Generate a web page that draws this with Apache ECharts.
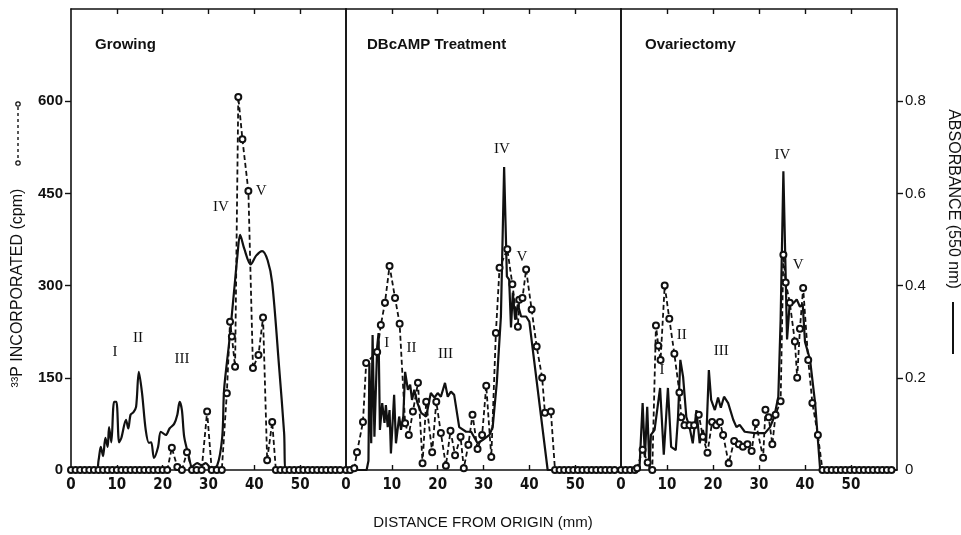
<!DOCTYPE html>
<html>
<head>
<meta charset="utf-8">
<script src="https://cdn.jsdelivr.net/npm/echarts@6/dist/echarts.min.js"></script>
<style>
  html, body { margin: 0; padding: 0; background: #fff; }
  #chart { width: 961px; height: 535px; }
</style>
</head>
<body>
<div id="chart"></div>
<script>
var panelNames = ['Growing', 'DBcAMP Treatment', 'Ovariectomy'];
var xTicks = [0, 10, 20, 30, 40, 50];
var cpmTicks = [0, 150, 300, 450, 600];
var absTicks = [0, 0.2, 0.4, 0.6, 0.8];

// 33P incorporated, [distance mm, cpm]
var growingCpm = [
  [0,0],[1,0],[2,0],[3,0],[4,0],[5,0],[6,0],[7,0],[8,0],[9,0],[10,0],[11,0],[12,0],[13,0],[14,0],
  [15,0],[16,0],[17,0],[18,0],[19,0],[20,0],[21,0],[22,36],[23.2,5],[24.2,0],[25.3,29],[26.4,0],
  [27.4,0],[28.5,0],[29.7,95],[30.7,0],[31.8,0],[32.9,0],[34,125],[34.7,241],[35.1,217],[35.8,168],
  [36.5,607],[37.4,538],[38.7,454],[39.7,166],[40.9,187],[41.9,248],[42.8,16],[43.9,78],[44.7,0],
  [45.7,0],[46.7,0],[47.7,0],[48.7,0],[49.7,0],[50.7,0],[51.7,0],[52.7,0],[53.7,0],[54.7,0],
  [55.7,0],[56.7,0],[57.7,0],[58.7,0]
];
var dbcampCpm = [
  [0,0],[0.9,0],[1.8,3],[2.4,29],[3.7,78],[4.4,174],[6.8,192],[7.6,236],[8.5,272],[9.5,332],
  [10.7,280],[11.7,238],[12.9,76],[13.7,57],[14.6,95],[15.7,142],[16.7,11],[17.5,111],[18.8,29],
  [19.7,111],[20.7,60],[21.8,7],[22.8,64],[23.8,24],[25,54],[25.7,3],[26.7,41],[27.6,90],[28.7,34],
  [29.7,57],[30.6,137],[31.7,21],[32.7,223],[33.5,329],[35.2,359],[36.3,302],[37.5,233],[37.8,277],
  [38.5,280],[39.3,326],[40.5,261],[41.6,201],[42.8,150],[43.4,93],[44.7,95],[45.6,0],[46.6,0],
  [47.6,0],[48.6,0],[49.6,0],[50.6,0],[51.6,0],[52.6,0],[53.6,0],[54.6,0],[55.6,0],[56.6,0],
  [57.6,0],[58.6,0]
];
var ovxCpm = [
  [0,0],[1,0],[2,0],[3,0],[3.5,3],[4.7,33],[5.8,12],[6.8,0],[7.6,235],[8.1,202],[8.6,179],[9.5,300],
  [10.5,246],[11.6,189],[12.7,126],[13.1,86],[13.8,73],[14.9,73],[15.9,73],[16.9,90],[17.8,54],
  [18.8,28],[19.8,78],[20.7,73],[21.5,78],[22.2,57],[23.4,11],[24.6,47],[25.6,42],[26.5,38],
  [27.5,42],[28.4,31],[29.3,77],[30.9,20],[31.4,98],[32.1,86],[32.9,42],[33.6,90],[34.7,112],
  [35.3,350],[35.8,305],[36.7,272],[37.8,209],[38.3,150],[38.9,230],[39.6,296],[40.7,179],
  [41.6,109],[42.8,57],[43.8,0],[44.8,0],[45.8,0],[46.8,0],[47.8,0],[48.8,0],[49.8,0],[50.8,0],
  [51.8,0],[52.8,0],[53.8,0],[54.8,0],[55.8,0],[56.8,0],[57.8,0],[58.8,0]
];

// absorbance at 550 nm, [distance mm, A]
var growingAbs = [
  [0,0],[5.5,0],[6,0.02],[6.5,0.05],[7,0.03],[7.5,0.07],[8,0.05],[8.3,0.093],[8.8,0.06],[9.4,0.148],
  [9.9,0.148],[10.5,0.06],[11,0.07],[12,0.109],[12.5,0.09],[13,0.12],[13.6,0.125],[14.2,0.137],
  [14.8,0.213],[15.5,0.167],[16.3,0.087],[17,0.059],[17.5,0.06],[18.1,0.026],[19,0.05],[19.6,0.083],
  [20.7,0.076],[21.5,0.09],[22.5,0.1],[23.2,0.12],[23.7,0.148],[24.2,0.13],[24.7,0.072],[25.7,0.03],
  [26.4,0.007],[27.5,0.015],[28.5,0.01],[29.4,0.015],[30.5,0.005],[31.9,0.01],[33,0.072],
  [33.4,0.174],[34.5,0.276],[35.6,0.39],[36.3,0.464],[36.9,0.51],[37.8,0.48],[39.2,0.446],
  [40.4,0.465],[41.7,0.475],[42.9,0.455],[43.9,0.406],[45.4,0.224],[46.5,0.08],[46.9,0],[60,0]
];
var dbcampAbs = [
  [0,0],[4.5,0],[4.9,0.02],[5.1,0.232],[5.5,0.058],[5.8,0.293],[6.2,0.072],[6.8,0.267],[7.1,0.297],
  [7.4,0.087],[7.9,0.145],[8.4,0.102],[8.7,0.141],[9.1,0.093],[9.5,0.13],[9.8,0.036],[10.5,0.163],
  [10.9,0.058],[11.6,0.116],[12,0.087],[12.5,0.116],[12.9,0.213],[13.5,0.174],[14,0.185],
  [14.4,0.152],[14.9,0.174],[15.6,0.145],[16.4,0.124],[17.5,0.116],[18.5,0.167],[19.3,0.157],
  [20,0.167],[20.7,0.159],[21.6,0.189],[22.2,0.159],[22.9,0.17],[23.6,0.163],[24.7,0.093],
  [26.2,0.083],[27.3,0.083],[28.7,0.058],[29.8,0.065],[31.3,0.076],[32,0.093],[32.9,0.189],
  [33.8,0.333],[34.5,0.657],[35.1,0.42],[35.6,0.413],[36,0.309],[36.4,0.385],[36.9,0.326],
  [37.5,0.359],[38.2,0.333],[39.3,0.333],[40,0.322],[44,0],[60,0]
];
var ovxAbs = [
  [0,0],[4,0],[4.7,0.145],[5.2,0.028],[5.7,0.137],[6.2,0],[6.5,0.076],[7.3,0.087],[8.5,0.178],
  [9.3,0.033],[10.2,0.178],[10.9,0.05],[11.9,0.043],[12.4,0.115],[12.9,0.239],[13.5,0.202],
  [14.2,0.115],[14.9,0.093],[15.6,0.058],[16.4,0.13],[17.1,0.058],[17.8,0.087],[18.5,0.058],
  [19.1,0.217],[19.6,0.152],[20.4,0.13],[21.1,0.157],[21.7,0.135],[22.4,0.159],[23.3,0.145],
  [24.4,0.109],[25.1,0.093],[25.8,0.098],[26.9,0.083],[29.1,0.08],[31.3,0.08],[32.4,0.093],
  [33.3,0.115],[34.2,0.159],[34.7,0.326],[35.3,0.648],[36.1,0.283],[36.7,0.365],[37.5,0.362],
  [38.2,0.37],[38.9,0.354],[39.5,0.36],[40,0.278],[41.1,0.239],[42.2,0.145],[43.3,0],[60,0]
];

// peak labels, [text, mm, cpm]
var growingMarks = [['I',9.6,192],['II',14.6,215],['III',24.2,181],['IV',32.7,427],['V',41.5,453]];
var dbcampMarks = [['I',8.9,207],['II',14.3,199],['III',21.7,189],['IV',34,522],['V',38.4,346]];
var ovxMarks = [['I',8.9,163],['II',13.2,219],['III',21.8,194],['IV',35.1,513],['V',38.5,334]];

var ink = '#111';
var condensed = '"DejaVu Sans Condensed", "Liberation Sans", sans-serif';
var panels = [
  { cpm: growingCpm, abs: growingAbs, marks: growingMarks, smooth: 0.3 },
  { cpm: dbcampCpm, abs: dbcampAbs, marks: dbcampMarks, smooth: false },
  { cpm: ovxCpm, abs: ovxAbs, marks: ovxMarks, smooth: false }
];
var gridLeft = [71, 346, 621];
var titleLeft = [90, 362, 640];

var grids = [], xAxes = [], yAxes = [], series = [], titles = [];
var frame = { show: true, onZero: false, lineStyle: { color: ink, width: 1.6 } };

panels.forEach(function (p, i) {
  grids.push({ left: gridLeft[i], top: 9, width: i === 2 ? 276 : 275, height: 461 });
  titles.push({
    text: panelNames[i], left: titleLeft[i], top: 32,
    textStyle: { fontFamily: 'Liberation Sans', fontWeight: 'bold', fontSize: 15, color: ink }
  });
  xAxes.push({
    gridIndex: i, type: 'value', min: 0, max: 60, interval: 10, position: 'bottom',
    axisLine: frame,
    axisTick: { show: true, inside: true, length: 5, customValues: [10, 20, 30, 40, 50], lineStyle: { color: ink, width: 1.4 } },
    axisLabel: { customValues: xTicks, color: ink, fontFamily: condensed, fontWeight: 'bold', fontSize: 15, margin: 8 },
    splitLine: { show: false }
  });
  xAxes.push({
    gridIndex: i, type: 'value', min: 0, max: 60, interval: 10, position: 'top',
    axisLine: frame,
    axisTick: { show: true, inside: true, length: 5, customValues: [10, 20, 30, 40, 50], lineStyle: { color: ink, width: 1.4 } },
    axisLabel: { show: false },
    splitLine: { show: false }
  });
  yAxes.push({
    gridIndex: i, type: 'value', min: 0, max: 750, interval: 150, position: 'left',
    axisLine: frame,
    axisTick: { show: i === 0, length: 6, customValues: [150, 300, 450, 600], lineStyle: { color: ink, width: 1.4 } },
    axisLabel: { show: i === 0, customValues: cpmTicks, color: ink, fontFamily: 'Liberation Sans', fontWeight: 'bold', fontSize: 15, margin: 8 },
    splitLine: { show: false }
  });
  yAxes.push({
    gridIndex: i, type: 'value', min: 0, max: 1, interval: 0.2, position: 'right',
    axisLine: frame,
    axisTick: { show: i === 2, length: 6, customValues: [0.2, 0.4, 0.6, 0.8], lineStyle: { color: ink, width: 1.4 } },
    axisLabel: { show: i === 2, customValues: absTicks, color: ink, fontFamily: 'Liberation Sans', fontSize: 15, margin: 8 },
    splitLine: { show: false }
  });
  series.push({
    type: 'line', xAxisIndex: 2 * i, yAxisIndex: 2 * i + 1, data: p.abs,
    symbol: 'none', smooth: p.smooth,
    lineStyle: { color: ink, width: 2.2 }
  });
  series.push({
    type: 'line', xAxisIndex: 2 * i, yAxisIndex: 2 * i, data: p.cpm,
    symbol: 'emptyCircle', symbolSize: 6, showAllSymbol: true,
    lineStyle: { color: ink, width: 1.8, type: [5, 3] },
    itemStyle: { color: ink, borderColor: ink, borderWidth: 1.5 },
    markPoint: {
      silent: true, symbol: 'circle', symbolSize: 0,
      label: {
        show: true, position: 'inside', color: ink, fontFamily: 'Liberation Serif', fontSize: 15,
        formatter: function (d) { return d.name; }
      },
      data: p.marks.map(function (m) { return { name: m[0], coord: [m[1], m[2]] }; })
    }
  });
});

var chart = echarts.init(document.getElementById('chart'));
chart.setOption({
  animation: false,
  backgroundColor: '#fff',
  title: titles,
  grid: grids,
  xAxis: xAxes,
  yAxis: yAxes,
  series: series,
  graphic: [
    {
      type: 'text', x: 18, y: 288, rotation: Math.PI / 2,
      style: { text: '³³P INCORPORATED (cpm)', align: 'center', verticalAlign: 'middle',
        fill: ink, font: '16px "Liberation Sans"' }
    },
    { type: 'line', shape: { x1: 18, y1: 107, x2: 18, y2: 160 }, style: { stroke: ink, lineWidth: 1.4, lineDash: [3, 3] } },
    { type: 'circle', shape: { cx: 18, cy: 104, r: 2.2 }, style: { fill: '#fff', stroke: ink, lineWidth: 1.2 } },
    { type: 'circle', shape: { cx: 18, cy: 163, r: 2.2 }, style: { fill: '#fff', stroke: ink, lineWidth: 1.2 } },
    {
      type: 'text', x: 953, y: 199, rotation: -Math.PI / 2,
      style: { text: 'ABSORBANCE (550 nm)', align: 'center', verticalAlign: 'middle',
        fill: ink, font: '16px "Liberation Sans"' }
    },
    { type: 'line', shape: { x1: 953, y1: 302, x2: 953, y2: 354 }, style: { stroke: ink, lineWidth: 2 } },
    {
      type: 'text', x: 483, y: 523,
      style: { text: 'DISTANCE FROM ORIGIN (mm)', align: 'center', verticalAlign: 'middle',
        fill: ink, font: '15px "Liberation Sans"' }
    }
  ]
});
</script>
</body>
</html>
